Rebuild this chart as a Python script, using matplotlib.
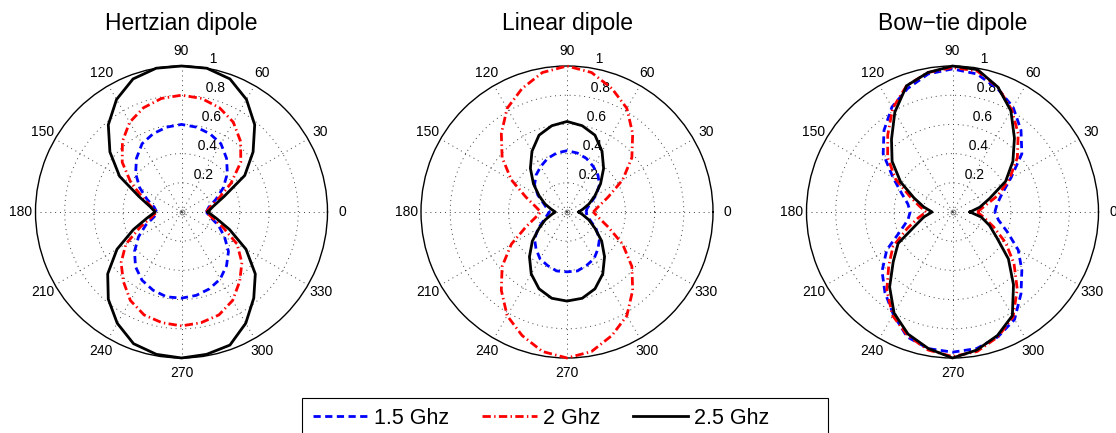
import matplotlib
matplotlib.use("Agg")
import matplotlib.pyplot as plt
import numpy as np
from matplotlib.lines import Line2D
from matplotlib.patches import Rectangle

plt.rcParams['font.family'] = ['Liberation Sans', 'DejaVu Sans']

# normalised pattern, sampled every 10 degrees (0 ... 350)
angles_deg = np.arange(0, 360, 10)

hertz_15 = [0.17, 0.19, 0.25, 0.33, 0.41, 0.48, 0.54, 0.57, 0.59, 0.60,
            0.59, 0.57, 0.54, 0.48, 0.41, 0.33, 0.25, 0.19,
            0.17, 0.19, 0.26, 0.34, 0.42, 0.49, 0.54, 0.57, 0.59,
            0.59, 0.58, 0.56, 0.53, 0.48, 0.42, 0.34, 0.27, 0.20]
hertz_20 = [0.17, 0.20, 0.27, 0.39, 0.53, 0.63, 0.71, 0.76, 0.79, 0.80,
            0.79, 0.76, 0.71, 0.63, 0.53, 0.40, 0.28, 0.21,
            0.17, 0.21, 0.30, 0.44, 0.54, 0.62, 0.70, 0.75, 0.77,
            0.78, 0.77, 0.75, 0.70, 0.62, 0.54, 0.44, 0.30, 0.21]
hertz_25 = [0.18, 0.22, 0.31, 0.50, 0.64, 0.78, 0.89, 0.97, 1.00, 1.00,
            1.00, 0.97, 0.89, 0.78, 0.64, 0.49, 0.31, 0.22,
            0.18, 0.24, 0.35, 0.51, 0.66, 0.78, 0.88, 0.96, 0.99,
            1.00, 0.99, 0.97, 0.88, 0.77, 0.66, 0.51, 0.35, 0.24]

linear_15 = [0.13, 0.14, 0.17, 0.23, 0.29, 0.33, 0.36, 0.39, 0.41, 0.42,
             0.41, 0.39, 0.36, 0.33, 0.29, 0.23, 0.17, 0.14,
             0.12, 0.14, 0.17, 0.23, 0.29, 0.33, 0.37, 0.39, 0.41,
             0.41, 0.41, 0.39, 0.37, 0.33, 0.29, 0.23, 0.17, 0.14]
linear_20 = [0.18, 0.22, 0.30, 0.44, 0.58, 0.70, 0.82, 0.90, 0.97, 1.00,
             0.97, 0.90, 0.82, 0.70, 0.58, 0.44, 0.30, 0.22,
             0.18, 0.22, 0.30, 0.44, 0.58, 0.70, 0.82, 0.90, 0.97,
             1.00, 0.97, 0.90, 0.82, 0.70, 0.58, 0.44, 0.30, 0.22]
linear_25 = [0.08, 0.11, 0.16, 0.22, 0.30, 0.39, 0.48, 0.56, 0.60, 0.62,
             0.60, 0.56, 0.48, 0.39, 0.30, 0.22, 0.16, 0.11,
             0.08, 0.11, 0.16, 0.22, 0.31, 0.40, 0.49, 0.56, 0.60,
             0.61, 0.60, 0.56, 0.49, 0.40, 0.31, 0.22, 0.16, 0.11]

bowtie_15 = [0.29, 0.31, 0.36, 0.46, 0.62, 0.73, 0.83, 0.90, 0.96, 0.98,
             0.96, 0.90, 0.83, 0.73, 0.62, 0.47, 0.37, 0.31,
             0.29, 0.31, 0.38, 0.52, 0.63, 0.72, 0.81, 0.91, 0.95,
             0.96, 0.95, 0.91, 0.85, 0.73, 0.62, 0.52, 0.40, 0.32]
bowtie_20 = [0.17, 0.22, 0.33, 0.45, 0.58, 0.70, 0.81, 0.91, 0.98, 0.99,
             0.97, 0.92, 0.82, 0.69, 0.58, 0.45, 0.31, 0.23,
             0.18, 0.24, 0.33, 0.47, 0.57, 0.70, 0.82, 0.90, 0.96,
             0.99, 0.97, 0.91, 0.83, 0.69, 0.55, 0.42, 0.30, 0.22]
bowtie_25 = [0.12, 0.19, 0.27, 0.42, 0.54, 0.66, 0.80, 0.91, 0.99, 1.00,
             0.97, 0.92, 0.79, 0.65, 0.54, 0.41, 0.28, 0.20,
             0.14, 0.20, 0.27, 0.43, 0.53, 0.67, 0.80, 0.89, 0.95,
             1.00, 0.96, 0.90, 0.82, 0.65, 0.50, 0.35, 0.27, 0.20]

titles = ['Hertzian dipole', 'Linear dipole', 'Bow\u2212tie dipole']
freq_labels = ['1.5 Ghz', '2 Ghz', '2.5 Ghz']
patterns = [
    [hertz_15, hertz_20, hertz_25],
    [linear_15, linear_20, linear_25],
    [bowtie_15, bowtie_20, bowtie_25],
]
r_ticks = [0.2, 0.4, 0.6, 0.8, 1.0]
r_tick_labels = ['0.2', '0.4', '0.6', '0.8', '1']
angle_ticks = np.arange(0, 360, 30)

styles = [
    dict(color='blue', linestyle=(0, (2.6, 1.6)), linewidth=2.0),
    dict(color='red', linestyle=(0, (3.0, 1.2, 0.5, 1.2)), linewidth=2.0),
    dict(color='black', linestyle='-', linewidth=2.0),
]

W, H = 1116, 433
fig = plt.figure(figsize=(W / 100, H / 100), dpi=100)
fig.patch.set_facecolor('white')

centers_x = [181.5, 567.0, 952.5]
center_y = 212.0
radius = 146.0

theta_fine = np.linspace(0, 2 * np.pi, 361)

for k in range(3):
    cx = centers_x[k]
    ax = fig.add_axes([(cx - radius) / W, (H - center_y - radius) / H,
                       2 * radius / W, 2 * radius / H], projection='polar')
    ax.set_ylim(0, 1)
    ax.set_xticks([])
    ax.set_yticks([])
    ax.grid(False)
    ax.spines['polar'].set_linewidth(1.0)
    ax.spines['polar'].set_color('black')
    ax.set_facecolor('white')

    # dotted rings and spokes
    for r in r_ticks[:-1]:
        ax.plot(theta_fine, np.full_like(theta_fine, r), color='0.25',
                linestyle=(0, (1, 4)), linewidth=0.7, zorder=1)
    for a in angle_ticks:
        ax.plot([np.deg2rad(a), np.deg2rad(a)], [0, 1], color='0.25',
                linestyle=(0, (1, 4)), linewidth=0.7, zorder=1)
    ax.plot([0], [0], marker='o', markersize=3.5, mfc='none', mec='0.4',
            mew=0.6, linestyle='none', zorder=1)

    for a in angle_ticks:
        ax.text(np.deg2rad(a), 1.1, str(a), ha='center', va='center',
                fontsize=10, clip_on=False)
    for r, lab in zip(r_ticks, r_tick_labels):
        ax.text(np.deg2rad(82), r + 0.01, '  ' + lab, ha='left', va='bottom',
                fontsize=10, clip_on=False, zorder=2)

    theta = np.deg2rad(np.append(angles_deg, 360))
    for vals, st in zip(patterns[k], styles):
        rr = np.append(vals, vals[0])
        ax.plot(theta, rr, zorder=3, clip_on=False, **st)

    fig.text(cx / W, 1 - 30 / H, titles[k], ha='center', va='baseline',
             fontsize=16.5)

# legend box runs past the bottom edge of the figure
fig.patches.append(Rectangle((302 / W, -0.1), (828 - 302) / W, 0.1 + (H - 398) / H,
                             transform=fig.transFigure, fill=False,
                             edgecolor='black', linewidth=0.8))
handles = [Line2D([], [], **st) for st in styles]
leg = fig.legend(handles, freq_labels, loc='upper left',
                 bbox_to_anchor=(313 / W, 1 - 408 / H), ncol=3,
                 fontsize=15.5, frameon=False, borderaxespad=0, borderpad=0,
                 handlelength=2.55, handletextpad=0.3, columnspacing=1.5)

fig.savefig('out.png', dpi=100)
